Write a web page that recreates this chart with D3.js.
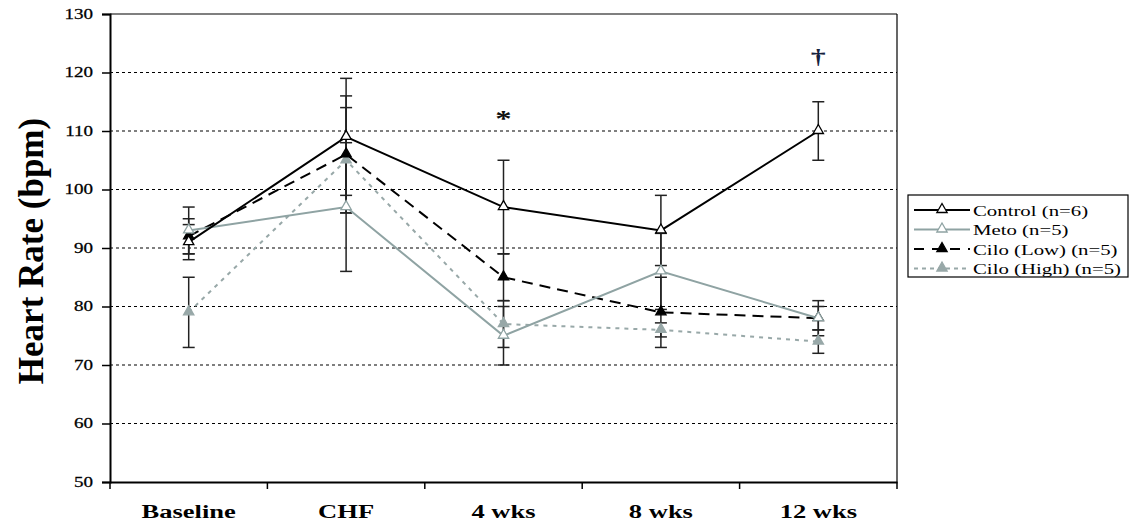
<!DOCTYPE html>
<html>
<head>
<meta charset="utf-8">
<script src="https://cdn.jsdelivr.net/npm/d3@7"></script>
<style>
  html, body { margin: 0; padding: 0; background: #fff; }
  svg { display: block; }
  text { font-family: "Liberation Serif", "Times New Roman", serif; }
</style>
</head>
<body>
<svg id="chart" width="1133" height="527"></svg>
<script>
// Time points
const categories = ["Baseline", "CHF", "4 wks", "8 wks", "12 wks"];
const yTicks = [50, 60, 70, 80, 90, 100, 110, 120, 130];

// Mean heart rate (bpm) per group
const controlMean = [91, 109, 97, 93, 110];
const metoMean    = [93, 97, 75, 86, 78];
const ciloLowMean = [92, 106, 85, 79, 78];
const ciloHighMean= [79, 105, 77, 76, 74];

// Error (± bpm) per group
const controlErr  = [3, 10, 8, 6, 5];
const metoErr     = [4, 11, 5, 6.5, 2];
const ciloLowErr  = [3, 10, 4, 6, 3];
const ciloHighErr = [6, 9, 4, 1.2, 2];

// Significance marks above time points
const marks = [{ cat: "4 wks", sym: "*", value: 110.8 }, { cat: "12 wks", sym: "\u2020", value: 121.5 }];

const series = [
  { name: "Control (n=6)",    mean: controlMean,  err: controlErr,  stroke: "#000", width: 2,   dash: null,  mFill: "#fff",    mStroke: "#000" },
  { name: "Meto (n=5)",       mean: metoMean,     err: metoErr,     stroke: "#8fa3a3", width: 2, dash: null, mFill: "#fff",    mStroke: "#8fa3a3" },
  { name: "Cilo (Low) (n=5)", mean: ciloLowMean,  err: ciloLowErr,  stroke: "#000", width: 2,   dash: "11,7", mFill: "#000",   mStroke: "#000" },
  { name: "Cilo (High) (n=5)",mean: ciloHighMean, err: ciloHighErr, stroke: "#98a8a8", width: 2, dash: "4,5", mFill: "#98a8a8", mStroke: "#98a8a8" }
];

// Horizontal text is drawn wide
const SX = 1.36;

const svg = d3.select("#chart");
const plot = { left: 110, right: 897, top: 14, bottom: 482 };

const x = d3.scaleBand().domain(categories).range([plot.left, plot.right]).padding(0);
const cx = c => x(c) + x.bandwidth() / 2;
const y = d3.scaleLinear().domain([50, 130]).range([plot.bottom, plot.top]);

// Dotted horizontal gridlines
svg.append("g")
  .selectAll("line")
  .data(yTicks.filter(v => v > 50 && v < 130))
  .join("line")
  .attr("x1", plot.left).attr("x2", plot.right)
  .attr("y1", d => y(d)).attr("y2", d => y(d))
  .attr("stroke", "#000").attr("stroke-width", 1.2)
  .attr("stroke-dasharray", "3,3");

// Plot frame (top and right)
svg.append("line").attr("x1", plot.left).attr("x2", plot.right)
  .attr("y1", plot.top).attr("y2", plot.top).attr("stroke", "#000").attr("stroke-width", 1.2);
svg.append("line").attr("x1", plot.right).attr("x2", plot.right)
  .attr("y1", plot.top).attr("y2", plot.bottom).attr("stroke", "#000").attr("stroke-width", 1.2);

// Y axis
const yAxis = svg.append("g")
  .attr("transform", `translate(${plot.left},0)`)
  .call(d3.axisLeft(y).tickValues(yTicks).tickSize(8).tickPadding(7).tickFormat(d3.format("d")));
yAxis.select(".domain").attr("stroke", "#000").attr("stroke-width", 2);
yAxis.selectAll(".tick line").attr("stroke", "#000").attr("stroke-width", 1.5);
yAxis.selectAll(".tick text")
  .attr("font-size", 14).attr("fill", "#000")
  .attr("font-family", "'Liberation Serif', serif")
  .attr("stroke", "#000").attr("stroke-width", 0.25)
  .attr("x", -17 / SX)
  .attr("transform", `scale(${SX},1)`);

// X axis: labels at category centres, ticks at category boundaries
const xAxis = svg.append("g")
  .attr("transform", `translate(0,${plot.bottom})`)
  .call(d3.axisBottom(x).tickSize(0));
xAxis.select(".domain").attr("stroke", "#000").attr("stroke-width", 2);
xAxis.selectAll(".tick text")
  .attr("font-size", 19.5).attr("font-weight", "bold").attr("fill", "#000")
  .attr("font-family", "'Liberation Serif', serif")
  .attr("y", 36).attr("dy", null)
  .attr("transform", `scale(${SX},1)`);
const bounds = categories.map(c => x(c)).concat([plot.right]);
svg.append("g").selectAll("line").data(bounds).join("line")
  .attr("x1", d => d).attr("x2", d => d)
  .attr("y1", plot.bottom).attr("y2", plot.bottom + 7)
  .attr("stroke", "#000").attr("stroke-width", 1.5);

// Y axis title
svg.append("text")
  .attr("transform", `translate(43,${251}) rotate(-90)`)
  .attr("text-anchor", "middle")
  .attr("font-size", 35).attr("font-weight", "bold").attr("fill", "#000")
  .text("Heart Rate (bpm)");

// Error bars
const capHalf = 6;
series.forEach(s => {
  const g = svg.append("g");
  categories.forEach((c, i) => {
    const lo = y(s.mean[i] - s.err[i]), hi = y(s.mean[i] + s.err[i]), px = cx(c);
    g.append("line").attr("x1", px).attr("x2", px).attr("y1", lo).attr("y2", hi)
      .attr("stroke", "#222").attr("stroke-width", 1.5);
    [lo, hi].forEach(v => g.append("line")
      .attr("x1", px - capHalf).attr("x2", px + capHalf).attr("y1", v).attr("y2", v)
      .attr("stroke", "#222").attr("stroke-width", 1.5));
  });
});

// Lines
const line = d3.line().x((d, i) => cx(categories[i])).y(d => y(d));
series.slice().reverse().forEach(s => {
  svg.append("path").datum(s.mean)
    .attr("d", line)
    .attr("fill", "none")
    .attr("stroke", s.stroke).attr("stroke-width", s.width)
    .attr("stroke-dasharray", s.dash);
});

// Triangle markers
const tri = d3.symbol().type(d3.symbolTriangle).size(46);
series.slice().reverse().forEach(s => {
  svg.append("g").selectAll("path").data(s.mean).join("path")
    .attr("d", tri)
    .attr("transform", (d, i) => `translate(${cx(categories[i])},${y(d) - 0.5})`)
    .attr("fill", s.mFill).attr("stroke", s.mStroke).attr("stroke-width", 1.3);
});

// Significance symbols
svg.append("g").selectAll("text").data(marks).join("text")
  .attr("transform", d => `translate(${cx(d.cat)},${y(d.value)}) scale(${SX},1)`)
  .attr("text-anchor", "middle")
  .attr("font-size", d => d.sym === "*" ? 24 : 22)
  .attr("font-weight", "bold")
  .attr("fill", d => d.sym === "*" ? "#111" : "#14213d")
  .text(d => d.sym);

// Legend
const lg = svg.append("g").attr("transform", "translate(908,195)");
lg.append("rect").attr("x", 0).attr("y", 0).attr("width", 220).attr("height", 82)
  .attr("fill", "#fff").attr("stroke", "#000").attr("stroke-width", 1.2);
series.forEach((s, i) => {
  const ly = 15 + i * 19.5;
  lg.append("line").attr("x1", 6).attr("x2", 62).attr("y1", ly).attr("y2", ly)
    .attr("stroke", s.stroke).attr("stroke-width", s.width)
    .attr("stroke-dasharray", s.dash ? (s.dash === "11,7" ? "10,8" : "4,4") : null);
  lg.append("path").attr("d", tri).attr("transform", `translate(34,${ly - 0.5})`)
    .attr("fill", s.mFill).attr("stroke", s.mStroke).attr("stroke-width", 1.3);
  lg.append("text")
    .attr("transform", `translate(65,${ly + 5.5}) scale(${SX},1)`)
    .attr("font-size", 15.3).attr("fill", "#000").text(s.name);
});
</script>
</body>
</html>
